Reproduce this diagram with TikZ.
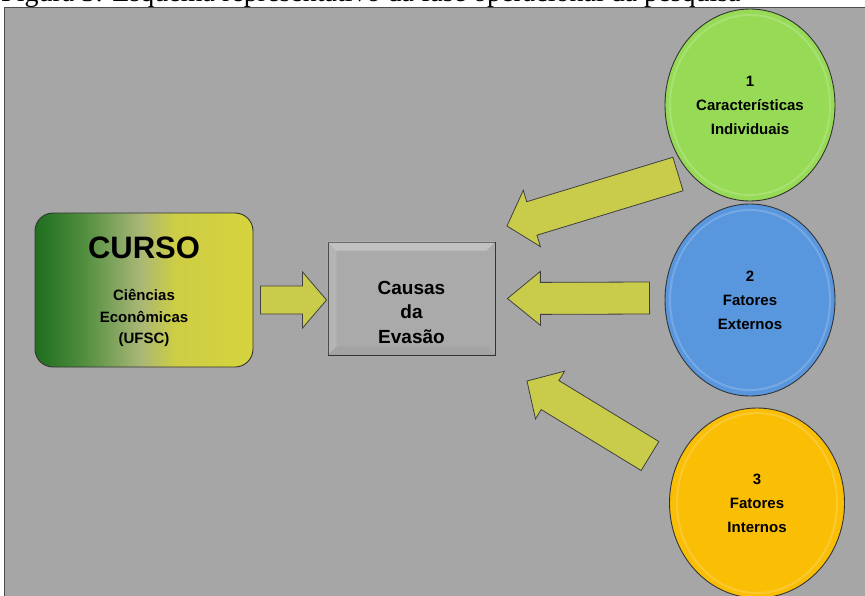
\documentclass[tikz,border=0pt]{standalone}
\usepackage{fontspec}
\setmainfont{Liberation Sans}
\newfontfamily\captionserif{Liberation Serif}
\usetikzlibrary{shapes.geometric,calc}

\definecolor{panelgray}{RGB}{166,166,166}
\definecolor{arrowyellow}{RGB}{201,204,74}
\definecolor{caracgreen}{RGB}{150,218,85}
\definecolor{extblue}{RGB}{88,150,222}
\definecolor{intorange}{RGB}{250,190,5}
\definecolor{cursoA}{RGB}{30,110,30}
\definecolor{cursoB}{RGB}{80,142,62}
\definecolor{cursoC}{RGB}{168,182,118}
\definecolor{cursoD}{RGB}{205,205,70}
\definecolor{cursoE}{RGB}{214,212,60}
\pgfdeclarehorizontalshading{cursoshade}{100bp}{color(0bp)=(cursoA); color(25bp)=(cursoA); color(36bp)=(cursoB); color(49bp)=(cursoC); color(57bp)=(cursoD); color(75bp)=(cursoE); color(100bp)=(cursoE)}

\tikzset{
  bubble/.style={ellipse, draw=black!80, line width=0.9pt, minimum width=170pt, minimum height=192pt,
    inner sep=0pt, align=center, font=\fontsize{15}{24}\selectfont\bfseries},
  cursobox/.style={rectangle, rounded corners=18pt, draw=black!80, line width=0.9pt, shading=cursoshade,
    minimum width=218pt, minimum height=154pt},
  causasbox/.style={rectangle, draw=black!80, line width=0.9pt, fill=panelgray!95!white,
    minimum width=167pt, minimum height=113pt},
  arrowbody/.style={fill=arrowyellow, draw=black!75, line width=0.8pt, line join=miter}
}

% tail, tip, half shaft, half head, head length
\newcommand{\blockarrow}[5]{%
  \coordinate (hb) at ($(#2)!#5!(#1)$);
  \filldraw[arrowbody] ($(#1)!#3!90:(#2)$) -- ($(hb)!#3!90:(#2)$) -- ($(hb)!#4!90:(#2)$) -- (#2)
    -- ($(hb)!#4!-90:(#2)$) -- ($(hb)!#3!-90:(#2)$) -- ($(#1)!#3!-90:(#2)$) -- cycle;
}

\begin{document}
\begin{tikzpicture}[x=1pt, y=-1pt]
\useasboundingbox (0,0) rectangle (865,595);
\clip (0,0) rectangle (865,595);

\node[anchor=base west, inner sep=0pt, font=\captionserif\fontsize{28}{32}\selectfont] (caption) at (1,1.5)
  {Figura 3: Esquema representativo da fase operacional da pesquisa};
\fill[panelgray] (4,7) rectangle (870,600);
\draw[black!70, line width=1pt] (4,600) -- (4,7) -- (870,7);

\node[cursobox] (curso) at (144,290) {};
\node[font=\fontsize{31}{36}\selectfont\bfseries] (cursotitle) at (144,248) {CURSO};
\node[align=center, font=\fontsize{15}{21.5}\selectfont\bfseries] (cursosub) at (144,318) {Ciências\\Econômicas\\(UFSC)};

\node[causasbox] (causas) at (411.5,298.5) {};
\fill[white, opacity=0.28] (causas.north west) -- (causas.north east) -- ($(causas.north east)+(-9,9)$) -- ($(causas.north west)+(9,9)$) -- cycle;
\fill[white, opacity=0.12] (causas.north west) -- (causas.south west) -- ($(causas.south west)+(9,-9)$) -- ($(causas.north west)+(9,9)$) -- cycle;
\fill[black, opacity=0.04] (causas.south west) -- (causas.south east) -- ($(causas.south east)+(-9,-9)$) -- ($(causas.south west)+(9,-9)$) -- cycle;
\node[align=center, font=\fontsize{19}{24.5}\selectfont\bfseries] (causastext) at (411.5,312) {Causas\\da\\Evasão};

\node[bubble, fill=caracgreen] (carac) at (750,105) {1\\Características\\Individuais};
\node[bubble, fill=extblue] (externos) at (750,300) {2\\Fatores\\Externos};
\node[bubble, fill=intorange, minimum width=175pt, minimum height=190pt] (internos) at (757,503) {3\\Fatores\\Internos};
\foreach \n in {carac,externos,internos}
  \draw[white, opacity=0.18, line width=2pt] (\n.center) ellipse [x radius=80, y radius=90];

\coordinate (a1tail) at ($(curso.east)+(7,10)$);
\coordinate (a1tip) at ($(causas.west)+(-1,1.5)$);
\coordinate (a2tail) at ($(externos.west)+(-15,-2)$);
\coordinate (a2tip) at ($(causas.east)+(12,0)$);
\coordinate (a3tail) at (678,174);
\coordinate (a3tip) at (507,226);
\coordinate (a4tail) at (650,456);
\coordinate (a4tip) at (527,381);

\blockarrow{a1tail}{a1tip}{14pt}{28pt}{24pt}
\blockarrow{a2tail}{a2tip}{16pt}{27pt}{33pt}
\blockarrow{a3tail}{a3tip}{17.5pt}{29.5pt}{26pt}
\blockarrow{a4tail}{a4tip}{17pt}{28pt}{27pt}
\end{tikzpicture}
\end{document}
